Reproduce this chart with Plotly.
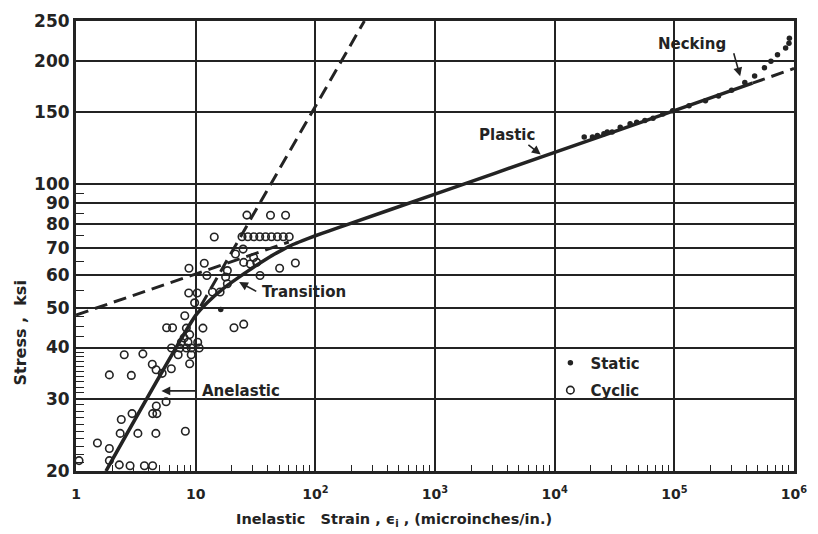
import plotly.graph_objects as go

# ---- Test data: inelastic strain (microinches/in.) vs stress (ksi) ----
cyclic_strain = [1.06, 1.51, 1.90, 1.90, 2.30, 2.83, 3.73, 4.37,
                 1.90, 2.90, 2.53, 3.62, 4.34, 4.67, 5.25, 6.26,
                 5.66, 4.69, 4.37, 4.74, 2.94, 2.39, 2.34, 3.29, 4.65, 8.20,
                 8.11, 8.36, 8.91, 7.60, 8.63, 10.4, 7.38, 8.36, 9.18, 10.7,
                 7.14, 9.18, 8.91, 5.72, 6.41, 6.28, 8.00,
                 8.79, 8.75, 10.3, 9.80, 11.8, 12.4, 13.8, 16.0, 14.3,
                 18.4, 17.8, 18.4, 21.5, 24.9, 25.2, 28.6, 30.5, 32.4,
                 20.9, 25.2, 11.5, 26.8, 42.2, 56.4,
                 24.4, 27.3, 30.6, 34.3, 38.4, 43.0, 48.2, 54.0, 60.5,
                 68.1, 50.3, 34.5]
cyclic_stress = [21.2, 23.4, 22.7, 21.2, 20.7, 20.6, 20.6, 20.6,
                 34.3, 34.2, 38.4, 38.6, 36.4, 35.3, 34.6, 35.5,
                 29.5, 28.8, 27.6, 27.6, 27.6, 26.7, 24.7, 24.7, 24.7, 25.0,
                 47.8, 44.6, 43.0, 41.2, 41.2, 41.2, 39.9, 39.9, 39.9, 39.9,
                 38.4, 38.4, 36.5, 44.7, 44.7, 39.9, 42.2,
                 62.4, 54.3, 54.3, 51.4, 64.2, 59.9, 54.6, 54.6, 74.4,
                 61.6, 59.4, 57.2, 67.6, 69.5, 64.5, 63.9, 66.3, 64.5,
                 44.7, 45.6, 44.6, 84.1, 84.0, 84.0,
                 74.5, 74.5, 74.5, 74.5, 74.5, 74.5, 74.5, 74.5, 74.5,
                 64.3, 62.4, 59.9]

static_strain = [16.2, 17660, 20700, 22750, 25780, 27500, 30200, 35330, 42700,
                 48500, 56750, 66400, 80200, 96800, 132700, 182000, 233900,
                 301000, 388000, 468700, 566000, 641600, 728000, 851000,
                 908000, 915000]
static_stress = [49.5, 130.4, 130.4, 131.5, 132.8, 134.0, 134.0, 137.8, 140.4,
                 141.7, 143.0, 144.9, 148.4, 151.1, 155.3, 159.7, 164.2,
                 169.5, 176.9, 183.5, 192.3, 199.4, 207.0, 214.8,
                 220.8, 227.0]

# Faired curve: anelastic branch, transition, plastic branch
curve_strain = [1.78, 10.0, 12.6, 17.3, 23.7, 30.0, 36.7, 45.0, 53.5, 65.0, 78.3,
                100.0, 129.0, 177.0, 1000, 10000, 100000, 450000]
curve_stress = [20.0, 47.9, 51.6, 55.9, 59.7, 62.6, 65.0, 67.4, 69.3, 71.3, 72.9,
                74.9, 76.9, 79.4, 94.6, 119.6, 151.1, 176.4]

# Dashed extensions of the straight-line branches
anelastic_ext_strain = [11.0, 257.0]
anelastic_ext_stress = [50.4, 250.0]
plastic_low_strain = [1.0, 60.0]
plastic_low_stress = [48.0, 72.3]
plastic_high_strain = [450000, 1000000]
plastic_high_stress = [176.4, 191.5]

# Axis ticks
x_ticks = [1, 10, 100, 1e3, 1e4, 1e5, 1e6]
x_ticktext = ["1", "10", "10<sup>2</sup>", "10<sup>3</sup>", "10<sup>4</sup>",
              "10<sup>5</sup>", "10<sup>6</sup>"]
y_ticks = [20, 30, 40, 50, 60, 70, 80, 90, 100, 150, 200, 250]
y_ticktext = [str(v) for v in y_ticks]
x_minor = [m * 10 ** d for d in range(6) for m in range(2, 10)]
y_minor = list(range(21, 30)) + list(range(31, 40)) + [42.5, 45, 47.5, 55, 65, 75, 85, 95]

ink = "#232323"
FONT = "DejaVu Sans"

fig = go.Figure()

fig.add_trace(go.Scatter(
    x=static_strain, y=static_stress, mode="markers", name="Static",
    legendgroup="s", legendrank=1,
    marker=dict(symbol="circle", size=5.5, color=ink)))
fig.add_trace(go.Scatter(
    x=cyclic_strain, y=cyclic_stress, mode="markers", name="Cyclic",
    legendgroup="c", legendrank=2,
    marker=dict(symbol="circle-open", size=7.5, color=ink, line=dict(width=1.6, color=ink))))

fig.add_trace(go.Scatter(
    x=curve_strain, y=curve_stress, mode="lines", showlegend=False,
    line=dict(color=ink, width=3.5, shape="spline", smoothing=0.6)))
for xs, ys in [(anelastic_ext_strain, anelastic_ext_stress),
               (plastic_low_strain, plastic_low_stress),
               (plastic_high_strain, plastic_high_stress)]:
    fig.add_trace(go.Scatter(
        x=xs, y=ys, mode="lines", showlegend=False,
        line=dict(color=ink, width=3, dash="13px,7px")))

lbl = dict(family=FONT, size=15, color=ink, weight="bold")

# Region labels (positions in log10 data units)
labels = [
    ("Necking", 5.148, 2.343, "center"),
    ("Plastic", 3.600, 2.120, "center"),
    ("Transition", 1.535, 1.737, "left"),
    ("Anelastic", 1.034, 1.4963, "left"),
]
for text, lx, ly, anchor in labels:
    fig.add_annotation(x=lx, y=ly, xref="x", yref="y", text=text, showarrow=False,
                       xanchor=anchor, yanchor="middle", font=lbl)

# Leader arrows: (tail x, tail y, tip x, tip y) in log10 data units
leaders = [
    (5.493, 2.323, 5.550, 2.263),
    (3.768, 2.099, 3.883, 2.0725),
    (1.519, 1.737, 1.363, 1.7615),
    (1.018, 1.4963, 0.714, 1.4963),
]
for tx, ty, hx, hy in leaders:
    fig.add_annotation(x=hx, y=hy, ax=tx, ay=ty, xref="x", yref="y", axref="x", ayref="y",
                       text="", showarrow=True, arrowhead=2, arrowsize=1.1,
                       arrowwidth=1.6, arrowcolor=ink)

# Axis titles
fig.add_annotation(text="Inelastic   Strain , \u03f5<sub>i</sub> , (microinches/in.)",
                   xref="paper", yref="paper", x=0.443, y=-0.108, xanchor="center",
                   yanchor="middle", showarrow=False,
                   font=dict(family=FONT, size=14.5, color=ink, weight="bold"))
fig.add_annotation(text="Stress ,  ksi", xref="paper", yref="paper", x=-0.0766, y=0.3055,
                   xanchor="center", yanchor="middle", textangle=-90, showarrow=False,
                   font=dict(family=FONT, size=16, color=ink, weight="bold"))

fig.update_xaxes(
    type="log", range=[0, 6], tickmode="array", tickvals=x_ticks, ticktext=x_ticktext,
    ticks="", ticklabelstandoff=8, showgrid=True, gridcolor=ink, gridwidth=1.6,
    showline=True, linecolor=ink, linewidth=3, mirror=True, zeroline=False,
    tickfont=dict(family=FONT, size=14, color=ink, weight="bold"),
    minor=dict(tickmode="array", tickvals=x_minor, ticks="inside", ticklen=6,
               tickwidth=1.3, tickcolor=ink, showgrid=False))
fig.update_yaxes(
    type="log", range=[1.30103, 2.39794], tickmode="array", tickvals=y_ticks,
    ticktext=y_ticktext, ticks="", showgrid=True, gridcolor=ink, gridwidth=1.6,
    showline=True, linecolor=ink, linewidth=3, mirror=True, zeroline=False,
    tickfont=dict(family=FONT, size=17, color=ink, weight="bold"),
    minor=dict(tickmode="array", tickvals=y_minor, ticks="inside", ticklen=8,
               tickwidth=1.3, tickcolor=ink, showgrid=False))

fig.update_layout(
    width=818, height=534,
    margin=dict(l=76, r=11, t=16, b=63),
    paper_bgcolor="white", plot_bgcolor="white",
    showlegend=True,
    legend=dict(x=0.6607, y=0.2769, xanchor="left", yanchor="top",
                bgcolor="rgba(0,0,0,0)", borderwidth=0, itemwidth=30,
                tracegroupgap=5, font=lbl),
)

fig.write_html("out.html")
